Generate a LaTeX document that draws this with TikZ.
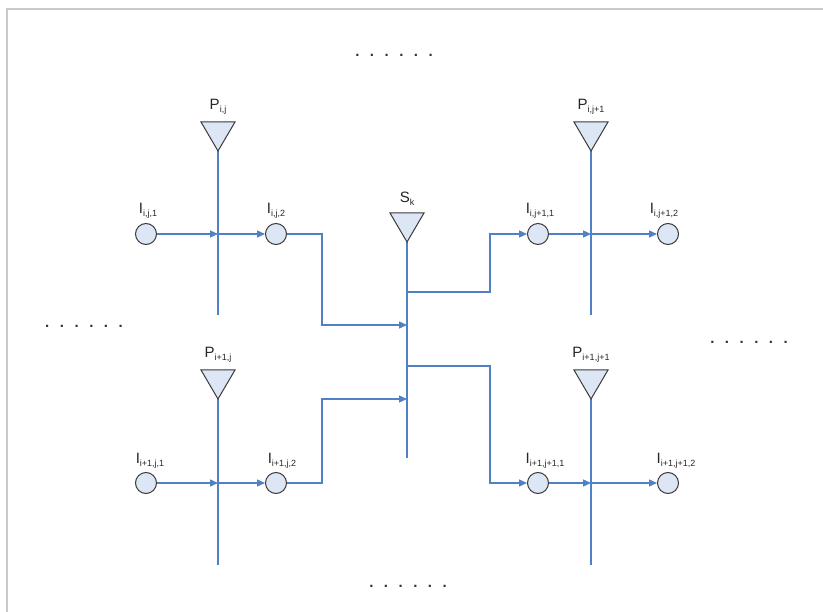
\documentclass[tikz,border=0pt]{standalone}
\usepackage{fontspec}
\setmainfont{Liberation Sans}
\usetikzlibrary{arrows.meta}
\definecolor{ln}{HTML}{4F81C4}
\definecolor{fl}{HTML}{DCE6F4}
\definecolor{st}{HTML}{3A3A3A}
\definecolor{fr}{HTML}{CACACA}
\newcommand\lbl[2]{#1\raisebox{-0.4ex}{\fontsize{9}{9}\selectfont #2}}
\newcommand\sixdots{.\hskip10.5pt.\hskip10.5pt.\hskip10.5pt.\hskip10.5pt.\hskip10.5pt.}
\begin{document}
\begin{tikzpicture}[x=1pt,y=-1pt,
 conn/.style={draw=ln,line width=1.3pt},
 arr/.style={conn,-{Triangle[length=8pt,width=7pt]}},
 circ/.style={circle,draw=st,fill=fl,line width=1pt,minimum size=21pt,inner sep=0pt},
 tri/.style={draw=st,fill=fl,line width=1pt,line join=miter},
 lab/.style={font=\fontsize{15}{15}\selectfont,inner sep=0pt,text=black!85},
 dotrow/.style={font=\fontsize{15}{15}\selectfont\bfseries,inner sep=0pt,anchor=base,text=black!80}]
\useasboundingbox (0,0) rectangle (823,612);
\fill[white] (0,0) rectangle (823,612);
\draw[fr,line width=2pt] (7,612) -- (7,9) -- (823,9);

% dots
\node[dotrow] (dtop) at (394,57) {\sixdots};
\node[dotrow] (dbot) at (408,587) {\sixdots};
\node[dotrow] (dleft) at (84,328) {\sixdots};
\node[dotrow] (dright) at (749,344) {\sixdots};

% coordinates
\coordinate (PA) at (218,151); \coordinate (PAe) at (218,315);
\coordinate (PB) at (591,151); \coordinate (PBe) at (591,315);
\coordinate (PC) at (218,399); \coordinate (PCe) at (218,565);
\coordinate (PD) at (591,399); \coordinate (PDe) at (591,565);
\coordinate (S) at (407,242); \coordinate (Se) at (407,458);

\coordinate (XA) at (218,234); \coordinate (XB) at (591,234);
\coordinate (XC) at (218,483); \coordinate (XD) at (591,483);

\coordinate (bA1) at (322,234); \coordinate (bA2) at (322,325); \coordinate (SA) at (407,325);
\coordinate (bC1) at (322,483); \coordinate (bC2) at (322,399); \coordinate (SC) at (407,399);
\coordinate (SB) at (407,292); \coordinate (bB1) at (490,292); \coordinate (bB2) at (490,234);
\coordinate (SD) at (407,366); \coordinate (bD1) at (490,366); \coordinate (bD2) at (490,483);

% circles
\node[circ] (I111) at (146,234) {};
\node[circ] (I112) at (276,234) {};
\node[circ] (I211) at (538,234) {};
\node[circ] (I212) at (668,234) {};
\node[circ] (I121) at (146,483) {};
\node[circ] (I122) at (276,483) {};
\node[circ] (I221) at (538,483) {};
\node[circ] (I222) at (668,483) {};

% vertical lines
\draw[conn] (PA) -- (PAe);
\draw[conn] (PB) -- (PBe);
\draw[conn] (PC) -- (PCe);
\draw[conn] (PD) -- (PDe);
\draw[conn] (S) -- (Se);

% horizontal flows
\draw[arr] (I111) -- (XA);
\draw[arr] (XA) -- (I112);
\draw[arr] (I211) -- (XB);
\draw[arr] (XB) -- (I212);
\draw[arr] (I121) -- (XC);
\draw[arr] (XC) -- (I122);
\draw[arr] (I221) -- (XD);
\draw[arr] (XD) -- (I222);

% to / from S
\draw[arr] (I112) -- (bA1) -- (bA2) -- (SA);
\draw[arr] (I122) -- (bC1) -- (bC2) -- (SC);
\draw[arr] (SB) -- (bB1) -- (bB2) -- (I211);
\draw[arr] (SD) -- (bD1) -- (bD2) -- (I221);

% triangles
\draw[tri] (PA) -- ++(-17,-29) -- ++(34,0) -- cycle;
\draw[tri] (PB) -- ++(-17,-29) -- ++(34,0) -- cycle;
\draw[tri] (PC) -- ++(-17,-29) -- ++(34,0) -- cycle;
\draw[tri] (PD) -- ++(-17,-29) -- ++(34,0) -- cycle;
\draw[tri] (S) -- ++(-17,-29) -- ++(34,0) -- cycle;

% labels
\node[lab] (lPA) at (218,107) {\lbl{P}{i,j}};
\node[lab] (lPB) at (591,107) {\lbl{P}{i,j+1}};
\node[lab] (lPC) at (218,355) {\lbl{P}{i+1,j}};
\node[lab] (lPD) at (591,355) {\lbl{P}{i+1,j+1}};
\node[lab] (lS) at (407,199) {\lbl{S}{k}};

\node[lab] (l111) at (148,211) {\lbl{I}{i,j,1}};
\node[lab] (l112) at (276,211) {\lbl{I}{i,j,2}};
\node[lab] (l211) at (540,211) {\lbl{I}{i,j+1,1}};
\node[lab] (l212) at (664,211) {\lbl{I}{i,j+1,2}};
\node[lab] (l121) at (150,461) {\lbl{I}{i+1,j,1}};
\node[lab] (l122) at (282,461) {\lbl{I}{i+1,j,2}};
\node[lab] (l221) at (545,461) {\lbl{I}{i+1,j+1,1}};
\node[lab] (l222) at (676,461) {\lbl{I}{i+1,j+1,2}};
\end{tikzpicture}
\end{document}
